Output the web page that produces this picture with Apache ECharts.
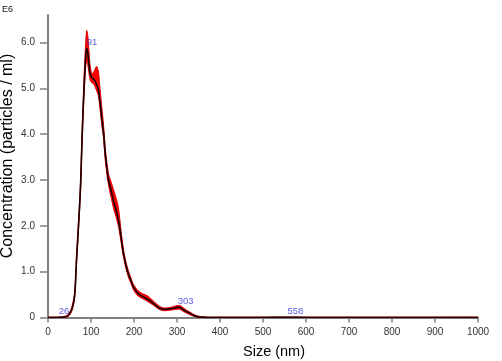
<!DOCTYPE html>
<html>
<head>
<meta charset="utf-8">
<script src="https://cdn.jsdelivr.net/npm/echarts@6/dist/echarts.min.js"></script>
<style>
html,body{margin:0;padding:0;background:#fff;}
#chart{width:502px;height:361px;}
</style>
</head>
<body>
<div id="chart"></div>
<script>
// Size (nm)
const sizes = [0, 20, 30, 40, 45, 50, 55, 60, 63, 66, 70, 73, 76, 79, 82, 85, 88, 90, 92, 95, 98, 102, 106, 110, 113, 117, 121, 125, 129, 133, 137, 141, 146, 152, 158, 164, 170, 175, 181, 187, 193, 198, 206, 214, 222, 230, 238, 245, 252, 260, 268, 276, 284, 292, 300, 307, 315, 322, 330, 338, 346, 355, 370, 400, 500, 558, 600, 700, 800, 900, 1000];
// mean concentration (E6 particles / ml)
const meanConc = [0, 0, 0.005, 0.01, 0.03, 0.08, 0.17, 0.35, 0.6, 1.2, 1.85, 2.35, 2.95, 3.85, 4.6, 5.25, 5.72, 5.87, 5.82, 5.55, 5.32, 5.24, 5.2, 5.15, 5.08, 4.98, 4.7, 4.35, 4.05, 3.58, 3.25, 2.98, 2.8, 2.56, 2.35, 2.12, 1.75, 1.42, 1.15, 0.95, 0.8, 0.68, 0.56, 0.49, 0.45, 0.41, 0.36, 0.31, 0.25, 0.2, 0.18, 0.18, 0.19, 0.2, 0.22, 0.22, 0.17, 0.13, 0.09, 0.05, 0.02, 0.01, 0, 0, 0, 0.004, 0, 0, 0, 0, 0];
// lower bound of error band
const lowerConc = [0, 0, 0, 0, 0.01, 0.05, 0.13, 0.3, 0.52, 1.1, 1.75, 2.25, 2.8, 3.7, 4.45, 5.05, 5.5, 5.6, 5.55, 5.35, 5.18, 5.12, 5.1, 5.02, 4.95, 4.85, 4.55, 4.2, 3.92, 3.45, 3.12, 2.88, 2.65, 2.4, 2.2, 1.98, 1.64, 1.34, 1.08, 0.88, 0.74, 0.62, 0.5, 0.44, 0.4, 0.36, 0.31, 0.27, 0.22, 0.17, 0.15, 0.15, 0.16, 0.17, 0.18, 0.18, 0.13, 0.1, 0.06, 0.03, 0.01, 0, 0, 0, 0, 0, 0, 0, 0, 0, 0];
// upper bound of error band
const upperConc = [0.01, 0.01, 0.015, 0.03, 0.05, 0.11, 0.22, 0.42, 0.68, 1.3, 1.95, 2.45, 3.05, 3.98, 4.78, 5.5, 6.05, 6.26, 6.2, 5.85, 5.5, 5.32, 5.35, 5.43, 5.48, 5.38, 5.0, 4.6, 4.22, 3.72, 3.38, 3.12, 2.98, 2.8, 2.62, 2.38, 1.88, 1.52, 1.22, 1.02, 0.86, 0.74, 0.62, 0.55, 0.51, 0.48, 0.42, 0.36, 0.3, 0.24, 0.21, 0.21, 0.22, 0.24, 0.26, 0.26, 0.21, 0.16, 0.12, 0.07, 0.04, 0.02, 0.01, 0.01, 0.01, 0.01, 0.01, 0.01, 0.01, 0.01, 0.01];
// peak labels
const peakSizes = [26, 91, 303, 558];
const peakConc = [0, 5.87, 0.22, 0];
// ticks
const xTickValues = [0, 100, 200, 300, 400, 500, 600, 700, 800, 900, 1000];
const yTickValues = [0, 1, 2, 3, 4, 5, 6];
const yTickLabels = ['0', '1.0', '2.0', '3.0', '4.0', '5.0', '6.0'];

const chart = echarts.init(document.getElementById('chart'), null, {renderer: 'canvas'});
const font = 'Liberation Sans, Arial, sans-serif';

const meanData = sizes.map((s, i) => [s, meanConc[i]]);
const peakData = peakSizes.map((s, i) => [s, peakConc[i]]);

chart.setOption({
  animation: false,
  backgroundColor: '#fff',
  grid: {left: 48, right: 24, top: 15, bottom: 43.5, containLabel: false, outerBoundsMode: 'none'},
  xAxis: {
    type: 'value', min: 0, max: 1000, interval: 100,
    axisLine: {show: true, lineStyle: {color: '#808080', width: 2}},
    axisTick: {show: true, length: 5, customValues: xTickValues, lineStyle: {color: '#808080', width: 1.5}},
    axisLabel: {fontFamily: font, fontSize: 10, color: '#333', margin: 10,
      customValues: xTickValues, formatter: v => String(Math.round(v))},
    splitLine: {show: false}
  },
  yAxis: {
    type: 'value', min: 0, max: 6.6,
    axisLine: {show: true, lineStyle: {color: '#808080', width: 2}},
    axisTick: {show: true, length: 8, customValues: yTickValues, lineStyle: {color: '#808080', width: 1.5}},
    axisLabel: {
      fontFamily: font, fontSize: 10, color: '#333', margin: 13,
      customValues: yTickValues,
      formatter: v => yTickLabels[yTickValues.indexOf(Math.round(v))]
    },
    splitLine: {show: false}
  },
  graphic: [
    {type: 'text', left: 2, top: 5, style: {text: 'E6', font: '9px ' + font, fill: '#111'}},
    {type: 'text', x: 8, y: 156, rotation: Math.PI / 2,
      style: {text: 'Concentration (particles / ml)', font: '16px ' + font, fill: '#000', align: 'center', verticalAlign: 'middle'}},
    {type: 'text', x: 274, y: 352,
      style: {text: 'Size (nm)', font: '14.5px ' + font, fill: '#000', align: 'center', verticalAlign: 'middle'}}
  ],
  series: [
    {
      type: 'custom',
      coordinateSystem: 'cartesian2d',
      clip: false,
      data: [[0, 0]],
      z: 2,
      renderItem: function (params, api) {
        const pts = [];
        for (let i = 0; i < sizes.length; i++) pts.push(api.coord([sizes[i], upperConc[i]]));
        for (let i = sizes.length - 1; i >= 0; i--) pts.push(api.coord([sizes[i], lowerConc[i]]));
        return {
          type: 'polygon',
          shape: {points: pts, smooth: 0.25},
          style: {fill: '#ff0000', stroke: '#e00000', lineWidth: 1}
        };
      }
    },
    {
      type: 'line',
      data: meanData,
      smooth: 0.3,
      showSymbol: false,
      symbol: 'none',
      z: 3,
      lineStyle: {color: '#1a0000', width: 1.6}
    },
    {
      type: 'scatter',
      data: peakData,
      symbolSize: 1,
      z: 4,
      itemStyle: {color: 'rgba(0,0,0,0)'},
      label: {
        show: true,
        position: [0, 0],
        align: 'left',
        verticalAlign: 'bottom',
        offset: [0, -1],
        fontFamily: font,
        fontSize: 9.5,
        color: '#3333dd',
        formatter: p => String(p.value[0])
      }
    }
  ]
});
</script>
</body>
</html>
